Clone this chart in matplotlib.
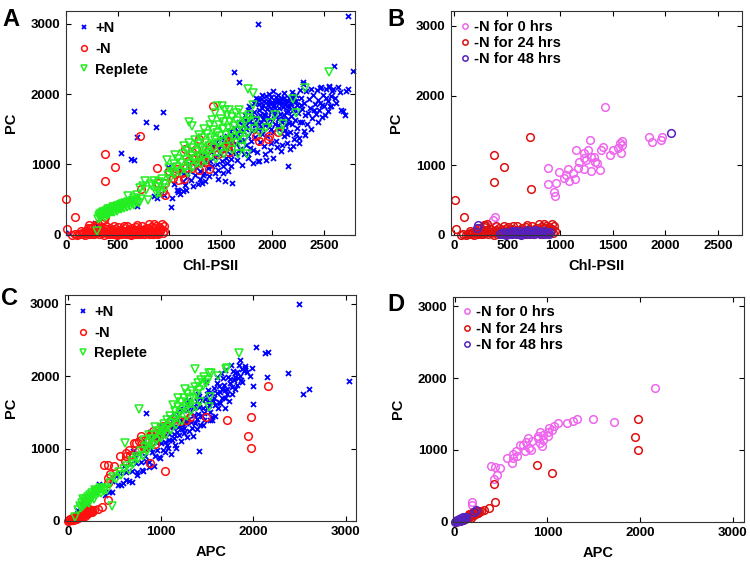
import numpy as np
import matplotlib.pyplot as plt

plt.rcParams['font.family'] = ['Liberation Sans', 'DejaVu Sans']
plt.rcParams['font.weight'] = 'bold'

# ---------------- data ----------------
# Panel A: Chl-PSII vs PC
a_plusN = [
    (26, 20), (280, 165), (300, 145), (640, 495), (690, 405), (855, 545), (1020, 400),
    (921, 592), (1085, 640), (1134, 620), (1314, 735), (1330, 850), (986, 970),
    (537, 1160), (626, 1075), (659, 1065), (691, 1385), (773, 1610), (871, 1540),
    (659, 1755), (937, 1740), (1864, 3000), (2735, 3114), (2784, 2336), (2600, 2408),
    (1629, 2322), (1681, 2180), (2148, 972), (1610, 740),
    (884, 530), (953, 560), (1046, 720), (1088, 615), (1105, 585), (1131, 760),
    (1156, 705), (1173, 825), (1198, 905), (1214, 780), (1247, 850), (1262, 965),
    (1281, 725), (1296, 905), (1073, 640), (1161, 640), (1236, 690), (1300, 800),
    (1140, 880), (1027, 530), (1190, 1000), (1118, 910),
    (1318, 1005), (1337, 880), (1352, 765), (1378, 950), (1396, 1055), (1419, 985),
    (1441, 880), (1449, 1105), (1463, 1000), (1478, 925), (1497, 1150), (1512, 1048),
    (1524, 985), (1538, 1205), (1551, 1095), (1563, 1020), (1572, 905), (1587, 1255),
    (1594, 1150), (1603, 1080), (1330, 1120), (1365, 1040), (1402, 1180), (1428, 1260),
    (1455, 1320), (1486, 1230), (1508, 1380), (1532, 1300), (1557, 1410), (1575, 1340),
    (1590, 1470), (1386, 830), (1474, 800), (1521, 880), (1545, 760), (1598, 980),
    (1605, 1390), (1622, 1180), (1634, 1520), (1648, 1290), (1655, 1060), (1667, 1430),
    (1679, 1610), (1684, 1220), (1697, 1345), (1702, 990), (1715, 1480), (1726, 1150),
    (1731, 1700), (1744, 1280), (1750, 1560), (1763, 1400), (1769, 1090), (1778, 1830),
    (1785, 1620), (1791, 1330), (1807, 1480), (1812, 1210), (1819, 1750), (1828, 1560),
    (1835, 1390), (1847, 1890), (1853, 1650), (1859, 1050), (1866, 1500), (1872, 1780),
    (1881, 1320), (1889, 1930), (1895, 1610), (1903, 1440), (1908, 1850), (1916, 1720),
    (1922, 1270), (1929, 1560), (1938, 1980), (1945, 1790), (1951, 1400), (1958, 1670),
    (1966, 1880), (1971, 1530), (1979, 1210), (1985, 1750), (1992, 1960), (1998, 1620),
    (2004, 1830), (2012, 1460), (2017, 1700), (2025, 1910), (2031, 1580), (2038, 1340),
    (2044, 1780), (2052, 1990), (2057, 1650), (2063, 1870), (2070, 1500), (2078, 1720),
    (2084, 1940), (2091, 1610), (2097, 1280), (2104, 1820), (2111, 1700), (2118, 2010),
    (2124, 1560), (2131, 1890), (2137, 1750), (2144, 1430), (2152, 1650), (2160, 1950),
    (2167, 1820), (2173, 1220), (2180, 1690), (2188, 1570), (2193, 2030), (2201, 1780),
    (2207, 1900), (2214, 1360), (2222, 1640), (2228, 1990), (2236, 1520), (2243, 1850),
    (2251, 1730), (2259, 1300), (2266, 2060), (2273, 1610), (2281, 1940), (2290, 1790),
    (2298, 2150), (2305, 1480), (2312, 1880), (2320, 1700), (2330, 2040), (2341, 1580),
    (2352, 1930), (2362, 1800), (2375, 2080), (2386, 1660), (2398, 1990), (2410, 1860),
    (2421, 1720), (2433, 2060), (2446, 1920), (2458, 1780), (2470, 2100), (2482, 1850),
    (2495, 1990), (2508, 1700), (2521, 2070), (2536, 1900), (2549, 2110), (2561, 1830),
    (2574, 1980), (2590, 2080), (2605, 1950), (2640, 2100), (2660, 2030), (2671, 1777),
    (2685, 1760), (2702, 1710), (2718, 2040), (2735, 2070), (2615, 1870), (2540, 1760),
    (2480, 1680), (2440, 1600), (2380, 1500), (2320, 1420), (2260, 1380), (2200, 1260),
    (2140, 1300), (2080, 1190), (2010, 1090), (1940, 1060), (1870, 1050), (1810, 1020),
    (1760, 1150), (1700, 1200), (1650, 1160), (1825, 1880), (1862, 1930), (1897, 1800),
    (1933, 1700), (1962, 1900), (1997, 1780), (2020, 1850), (2048, 1900), (2066, 1800),
    (2094, 1880), (2113, 1950), (2140, 1830), (2157, 1760), (2185, 1880), (2210, 1810),
    (1880, 1700), (1915, 1650), (1950, 1600), (1988, 1500), (2027, 1700), (2060, 1560),
    (2100, 1650), (2126, 1490), (2165, 1590), (1790, 1720), (1760, 1780), (1740, 1640),
    (1720, 1560), (1690, 1500), (1660, 1450), (1630, 1420), (1612, 1350), (1970, 2000),
    (2008, 2050), (1905, 1990), (1832, 1680), (1868, 1580), (1904, 1520), (2300, 2171),
    (2467, 2085), (2548, 2109), (2574, 1825), (2503, 1825),
    (1842, 1940), (1873, 1860), (1921, 1910), (1956, 1840), (1994, 1890), (2036, 1960),
    (2074, 1920), (2119, 1860), (2152, 1900), (2190, 1960), (2232, 1900), (2275, 1850),
    (2350, 1730), (2405, 1780), (2462, 1880), (2520, 1950), (2580, 2040), (2290, 1600),
    (2230, 1440), (2170, 1460), (2110, 1400), (2050, 1250), (1990, 1300), (1930, 1150),
    (1850, 1180), (1780, 1240), (1720, 1330), (1680, 1350), (1750, 1500), (1800, 1580),
]

a_replete = [
    (305, 60), (312, 225), (318, 262), (326, 240), (333, 290), (341, 258), (347, 310),
    (355, 275), (362, 330), (368, 298), (376, 250), (384, 345), (391, 312), (398, 282),
    (405, 360), (413, 328), (421, 300), (428, 372), (436, 342), (444, 318), (452, 388),
    (459, 356), (467, 330), (474, 402), (482, 372), (490, 345), (498, 415), (506, 386),
    (514, 360), (522, 428), (530, 398), (538, 372), (547, 440), (556, 412), (564, 385),
    (573, 455), (582, 426), (592, 400), (601, 468), (612, 438), (624, 412), (636, 482),
    (648, 452), (662, 430), (676, 498), (692, 470), (708, 445), (725, 505),
    (600, 545), (714, 663), (763, 758), (796, 497), (894, 616), (960, 663), (976, 1066),
    (745, 690), (780, 640), (820, 720), (850, 760), (870, 680), (905, 745), (930, 800),
    (950, 720), (985, 850), (1000, 950), (1010, 790), (880, 580), (915, 600), (835, 700),
    (690, 560), (660, 520),
    (1030, 900), (1045, 1010), (1060, 860), (1058, 1137), (1075, 960), (1090, 1080),
    (1105, 900), (1118, 1020), (1130, 1150), (1140, 1256), (1148, 940), (1160, 1060),
    (1172, 1190), (1185, 880), (1190, 1300), (1198, 1000), (1210, 1120), (1222, 1550),
    (1190, 1611), (1225, 1240), (1232, 960), (1245, 1080), (1252, 1350), (1260, 1180),
    (1271, 1020), (1280, 1290), (1288, 1420), (1295, 1120), (1305, 1000), (1312, 1240),
    (1320, 1380), (1330, 1100), (1338, 1500), (1345, 1200), (1352, 1310), (1360, 1050),
    (1370, 1430), (1378, 1160), (1385, 1270), (1394, 1560), (1402, 1380), (1410, 1120),
    (1419, 1635), (1425, 1490), (1432, 1240), (1440, 1350), (1448, 1730), (1455, 1080),
    (1462, 1450), (1468, 1834), (1475, 1300), (1483, 1560), (1490, 1200), (1498, 1400),
    (1505, 1650), (1517, 1825), (1512, 1320), (1520, 1500), (1528, 1150), (1535, 1600),
    (1542, 1777), (1548, 1420), (1556, 1250), (1563, 1700), (1570, 1520), (1578, 1350),
    (1583, 1777), (1590, 1600), (1598, 1450), (1605, 1200), (1612, 1680), (1620, 1380),
    (1628, 1550), (1635, 1300), (1648, 1730), (1655, 1480), (1662, 1620), (1670, 1150),
    (1681, 1777), (1688, 1400), (1696, 1560), (1705, 1250), (1712, 1680), (1720, 1480),
    (1730, 1350), (1740, 1600), (1752, 1150), (1761, 1450), (1770, 1700), (1779, 1659),
    (1761, 2071), (1810, 2014), (1812, 1848), (1820, 1500), (1840, 1620), (1880, 1450),
    (1943, 1517), (1976, 1588), (2074, 1469), (2030, 1700), (2100, 1580), (2235, 1730),
    (2316, 2085), (2200, 1930), (2548, 2322),
]

# Panel B: -N time course, Chl-PSII vs PC
b_0hrs = [
    (1427, 1839), (1288, 1362), (1152, 1218), (1225, 1171), (1263, 1218), (1294, 1123),
    (1231, 1099), (1184, 1051), (1247, 1075), (1326, 1123), (1332, 1051), (1351, 1037),
    (1383, 932), (1389, 1218), (1408, 1266), (1478, 1147), (1500, 1218), (1547, 1242),
    (1573, 1323), (1579, 1180), (1585, 1290), (1168, 956), (1120, 884), (1142, 798),
    (1089, 779), (1057, 860), (994, 908), (883, 956), (889, 731), (962, 741), (940, 621),
    (956, 559), (1294, 917), (1225, 951), (1073, 941), (1041, 812), (1845, 1409),
    (1876, 1338), (1959, 1362), (1972, 1409), (1590, 1340), (380, 250), (368, 205),
]
b_24hrs = [
    (3, 502), (92, 253), (13, 81), (377, 1147), (472, 970), (377, 764), (718, 1400),
    (725, 655), (288, 143), (851, 153), (930, 153), (915, 72),
    (62, 0), (85, 5), (110, 2), (128, 18), (140, 8), (152, 30), (165, 12), (178, 45),
    (186, 3), (198, 22), (210, 60), (222, 10), (233, 35), (245, 80), (256, 15), (262, 50),
    (275, 5), (284, 110), (290, 28), (302, 70), (310, 160), (318, 12), (330, 45),
    (342, 90), (350, 20), (362, 60), (371, 2), (383, 38), (392, 75), (405, 15), (414, 52),
    (425, 95), (433, 25), (446, 65), (455, 8), (467, 40), (478, 85), (486, 18), (497, 55),
    (508, 110), (516, 30), (528, 70), (537, 5), (549, 45), (558, 90), (570, 20), (579, 60),
    (590, 120), (600, 35), (612, 75), (620, 10), (633, 50), (642, 95), (655, 25),
    (664, 65), (675, 110), (686, 15), (695, 55), (707, 85), (716, 30), (728, 70),
    (737, 125), (748, 40), (757, 8), (769, 60), (778, 100), (790, 25), (798, 75),
    (810, 45), (820, 115), (832, 15), (840, 60), (853, 95), (862, 35), (873, 130),
    (880, 70), (892, 20), (900, 110), (912, 50), (925, 85), (938, 30), (946, 130),
    (955, 60), (150, 55), (230, 95), (390, 130), (560, 130), (690, 140), (800, 150),
    (280, 140), (470, 120),
]
b_48hrs = [
    (430, 5), (445, 25), (462, 12), (478, 40), (490, 2), (505, 30), (518, 15), (532, 45),
    (545, 5), (558, 28), (570, 50), (583, 10), (595, 35), (608, 18), (620, 55), (633, 3),
    (645, 30), (658, 45), (670, 12), (682, 38), (695, 20), (707, 55), (720, 5), (732, 32),
    (745, 48), (757, 15), (770, 40), (782, 25), (795, 58), (808, 8), (820, 35), (832, 20),
    (845, 50), (857, 10), (870, 38), (882, 25), (895, 15), (905, 45), (550, 60), (690, 62),
    (760, 65), (210, 100), (225, 145), (2055, 1460),
]

# Panel C: APC vs PC
c_plusN = [
    (2489, 3000), (2029, 2409), (2122, 2317), (2155, 2340), (2147, 1984), (2374, 2040),
    (3029, 1938), (2532, 1754), (2604, 1823), (1996, 1864), (1996, 1610), (1417, 969),
    (845, 1486), (331, 508), (475, 401), (97, 148), (1860, 2224), (1914, 2086),
    (1806, 2040), (1698, 1809), (1644, 1624), (1554, 1394),
    (480, 548), (515, 626), (538, 501), (562, 657), (590, 517), (604, 752), (631, 671),
    (655, 557), (668, 781), (693, 688), (712, 909), (737, 806), (749, 679), (771, 923),
    (786, 809), (802, 696), (815, 1050), (833, 900), (847, 825), (864, 1013), (879, 809),
    (891, 1002), (906, 948), (922, 1146), (938, 903), (951, 1087), (966, 983), (979, 877),
    (993, 1182), (1008, 1079), (1021, 983), (1036, 1169), (1050, 1084), (1062, 1327),
    (1077, 1003), (1089, 1196), (1104, 1312), (1118, 1117), (1131, 1291), (1145, 1207),
    (1158, 1051), (1172, 1406), (1186, 1291), (1199, 1185), (1213, 1400), (1226, 1264),
    (1240, 1539), (1252, 1212), (1267, 1398), (1279, 1351), (1293, 1526), (1306, 1240),
    (1320, 1486), (1333, 1360), (1347, 1555), (1360, 1469), (1374, 1354), (1388, 1659),
    (1401, 1473), (1415, 1578), (1428, 1332), (1442, 1677), (1455, 1561), (1469, 1487),
    (1482, 1681), (1496, 1556), (1509, 1810), (1523, 1665), (1536, 1509), (1550, 1764),
    (1563, 1658), (1577, 1843), (1590, 1607), (1604, 1772), (1617, 1566), (1631, 1871),
    (1644, 1776), (1658, 1701), (1671, 1975), (1685, 1880), (1698, 1704), (1712, 1829),
    (1725, 1993), (1739, 1658), (1752, 1962), (1766, 1857), (1779, 2071), (1793, 1946),
    (1806, 1830), (1820, 2056), (1834, 1971), (1849, 2157), (1863, 1942), (1878, 2098),
    (1895, 2067), (1912, 2145),
    (1015, 1230), (1042, 1290), (1068, 1050), (1096, 1120), (1123, 1380), (1150, 1140),
    (1177, 1230), (1203, 1470), (1230, 1330), (1258, 1280), (1285, 1610), (1312, 1410),
    (1338, 1290), (1366, 1590), (1392, 1410), (1420, 1730), (1446, 1450), (1473, 1390),
    (1500, 1750), (1527, 1600), (1554, 1440), (1580, 1700), (1608, 1900), (1635, 1640),
    (1662, 1820), (1690, 1560), (1716, 1760), (1745, 1900), (1772, 1760), (1798, 1990),
    (1826, 1880), (1853, 2000), (1881, 1920), (1906, 2110), (1935, 2060), (1960, 2000),
    (1985, 2110), (1760, 2160), (1700, 2090), (1650, 2040), (1588, 1455), (1530, 1395),
    (1462, 1330), (1395, 1275), (1350, 1170), (1282, 1160), (1215, 1100), (1165, 1010),
    (1110, 930), (1045, 950), (990, 870), (925, 760), (870, 745), (810, 690), (745, 640),
    (690, 540), (625, 560), (570, 500), (441, 395), (398, 360),
    (705, 960), (812, 1085), (884, 1230), (1010, 1310), (1093, 1440), (1211, 1545),
    (1296, 1670), (1409, 1760), (1488, 1920), (1612, 1985), (950, 1150), (1150, 1480),
]

c_replete = [
    (72, 46), (110, 150), (125, 200), (138, 175), (150, 240), (162, 210), (171, 270),
    (183, 235), (195, 300), (204, 265), (216, 330), (226, 290), (238, 355), (247, 318),
    (258, 380), (270, 345), (281, 300), (292, 395), (305, 360), (316, 410), (328, 378),
    (340, 425), (355, 390), (370, 440), (385, 410), (400, 460), (418, 430), (478, 203),
    (160, 300), (230, 250), (290, 420), (350, 460),
    (455, 520), (490, 610), (520, 580), (548, 670), (575, 640), (600, 720), (612, 1071),
    (640, 760), (662, 700), (690, 830), (705, 780), (732, 880), (766, 1541), (760, 850),
    (788, 960), (805, 900), (830, 1020), (848, 960), (870, 1080), (880, 1010), (905, 1130),
    (915, 1050), (940, 1190), (955, 1100), (972, 1240), (990, 1160), (1005, 1290),
    (1020, 1210), (1038, 1340), (1052, 1260), (1068, 1400), (1085, 1300), (1100, 1450),
    (1116, 1350), (1130, 1600), (1145, 1400), (1160, 1520), (1178, 1450), (1192, 1580),
    (1208, 1490), (1225, 1640), (1240, 1540), (1258, 1700), (1272, 1580), (1290, 1750),
    (1305, 1620), (1320, 1680), (1338, 1800), (1352, 1700), (1370, 1850), (1374, 2095),
    (1390, 1760), (1405, 1900), (1420, 1810), (1440, 1950), (1455, 1860), (1472, 1990),
    (1490, 1900), (1510, 1950), (1525, 2040), (1543, 2049), (1536, 1717), (1525, 1578),
    (1619, 2003), (1705, 2095), (1716, 2109), (1842, 2326), (1000, 1150), (1060, 1180),
    (1110, 1250), (1170, 1320), (1230, 1380), (1280, 1450), (1330, 1520), (1380, 1580),
    (1430, 1640), (945, 1300), (870, 1180), (820, 1120), (1190, 1700), (1260, 1820),
]

# Panel D: -N time course, APC vs PC
d_0hrs = [
    (2163, 1860), (1488, 1435), (1721, 1389), (1315, 1435), (1279, 1398), (1207, 1375),
    (1114, 1375), (1074, 1329), (1049, 1283), (1020, 1306), (1003, 1246), (949, 1214),
    (920, 1246), (895, 1168), (949, 1144), (920, 1098), (941, 1061), (895, 1200),
    (1003, 1200), (787, 1168), (769, 1107), (733, 1075), (823, 1006), (834, 1121),
    (708, 1075), (661, 983), (632, 937), (668, 914), (625, 891), (561, 891), (618, 821),
    (762, 983), (805, 1029), (392, 775), (431, 766), (492, 752), (456, 646), (428, 591),
    (183, 277), (187, 231),
]
d_24hrs = [
    (1973, 1430), (1944, 1177), (1973, 1006), (888, 794), (1046, 683), (428, 521),
    (435, 281), (367, 189), (320, 166), (284, 152), (250, 140),
    (15, 5), (28, 12), (40, 8), (52, 22), (60, 15), (72, 30), (80, 40), (92, 28),
    (100, 50), (108, 38), (118, 62), (125, 48), (133, 75), (140, 58), (150, 85),
    (156, 70), (165, 95), (172, 80), (180, 105), (188, 90), (195, 115), (203, 100),
    (212, 125), (220, 108), (228, 135), (236, 118), (245, 145), (255, 128), (265, 155),
    (150, 110), (200, 140), (180, 60),
]
d_48hrs = [
    (5, 3), (15, 10), (25, 6), (32, 18), (42, 12), (50, 25), (58, 20), (65, 35), (72, 28),
    (80, 42), (88, 35), (95, 50), (102, 45), (110, 60), (118, 52), (125, 70), (20, 25),
    (45, 35), (70, 55), (90, 70), (225, 160), (210, 140), (55, 8), (85, 20),
]

# -N in A and C is the union of the three time points
a_minusN = b_0hrs + b_24hrs + b_48hrs
c_minusN = d_0hrs + d_24hrs + d_48hrs

blue = '#0000ff'
red = '#ff1010'
green = '#22ee22'
pink = '#ee66ee'
dred = '#dd1010'
purple = '#5522bb'


def pts(ax, data, marker, color, label, ms=5.5, mew=1.1):
    arr = np.array(data, dtype=float)
    ax.plot(arr[:, 0], arr[:, 1], linestyle='none', marker=marker, ms=ms,
            mfc='none', mec=color, mew=mew, label=label, clip_on=False)


def style(ax, xlim, ylim, xticks, xlabel):
    ax.set_xlim(*xlim)
    ax.set_ylim(*ylim)
    ax.set_xticks(xticks)
    ax.set_yticks([0, 1000, 2000, 3000])
    ax.tick_params(direction='in', top=True, right=True, length=3.5, width=0.8,
                   labelsize=9.5, pad=4)
    for s in ax.spines.values():
        s.set_linewidth(0.8)
        s.set_color('#333333')
    ax.set_xlabel(xlabel, fontsize=10.5, fontweight='bold', labelpad=5)
    ax.set_ylabel('PC', fontsize=10.5, fontweight='bold', labelpad=9)


fig = plt.figure(figsize=(7.5, 5.63), dpi=100)
axA = fig.add_axes([0.088, 0.583, 0.385, 0.397])
axB = fig.add_axes([0.601, 0.583, 0.388, 0.397])
axC = fig.add_axes([0.087, 0.075, 0.388, 0.401])
axD = fig.add_axes([0.604, 0.073, 0.388, 0.400])

# A
pts(axA, a_plusN, 'x', blue, '+N', ms=3.6, mew=1.3)
pts(axA, a_minusN, 'o', red, '-N')
pts(axA, a_replete, 'v', green, 'Replete', ms=6)
style(axA, (0, 2800), (0, 3180), [0, 500, 1000, 1500, 2000, 2500], 'Chl-PSII')
axA.legend(loc='upper left', frameon=False, fontsize=10.5, handlelength=1.0,
           handletextpad=0.3, labelspacing=0.45, borderaxespad=0.3, markerscale=0.75)

# B
pts(axB, b_0hrs, 'o', pink, '-N for 0 hrs', ms=5.5)
pts(axB, b_24hrs, 'o', dred, '-N for 24 hrs', ms=5.5)
pts(axB, b_48hrs, 'o', purple, '-N for 48 hrs', ms=5.5)
style(axB, (-35, 2725), (0, 3210), [0, 500, 1000, 1500, 2000, 2500], 'Chl-PSII')
axB.legend(loc='upper left', frameon=False, fontsize=10.5, handlelength=0.7,
           handletextpad=0.3, labelspacing=0.15, borderaxespad=0.2, markerscale=0.7)

# C
pts(axC, c_plusN, 'x', blue, '+N', ms=3.6, mew=1.3)
pts(axC, c_minusN, 'o', red, '-N')
pts(axC, c_replete, 'v', green, 'Replete', ms=6)
style(axC, (-29, 3112), (0, 3124), [0, 1000, 2000, 3000], 'APC')
axC.legend(loc='upper left', frameon=False, fontsize=10.5, handlelength=1.0,
           handletextpad=0.3, labelspacing=0.45, borderaxespad=0.3, markerscale=0.75)

# D
pts(axD, d_0hrs, 'o', pink, '-N for 0 hrs', ms=5.5)
pts(axD, d_24hrs, 'o', dred, '-N for 24 hrs', ms=5.5)
pts(axD, d_48hrs, 'o', purple, '-N for 48 hrs', ms=5.5)
style(axD, (-18, 3119), (0, 3130), [0, 1000, 2000, 3000], 'APC')
axD.legend(loc='upper left', frameon=False, fontsize=10.5, handlelength=0.7,
           handletextpad=0.3, labelspacing=0.15, borderaxespad=0.2, markerscale=0.7)

for lab, x, y in [('A', 0.003, 0.985), ('B', 0.516, 0.985), ('C', 0.002, 0.49), ('D', 0.516, 0.48)]:
    fig.text(x, y, lab, fontsize=17, fontweight='bold', va='top', ha='left')

fig.savefig('out.png', dpi=100)
